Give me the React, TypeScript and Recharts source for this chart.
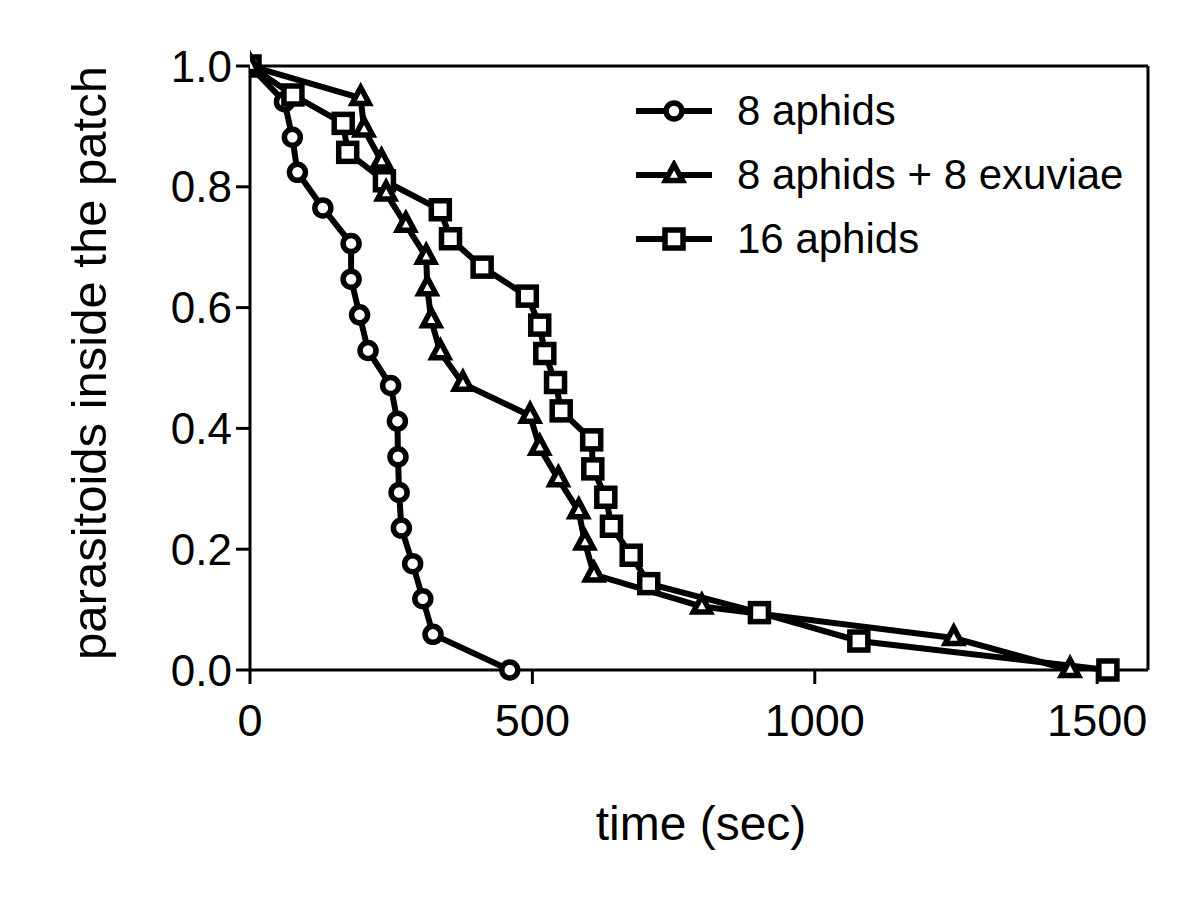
import React from 'react';
import { LineChart, Line, XAxis, YAxis, ReferenceLine, Legend } from 'recharts';

// 8 aphids (circles)
const aphids8Time = [0, 61, 75, 84, 129, 179, 179, 194, 209, 249, 261, 262, 264, 268, 288, 306, 324, 460];
const aphids8Prop = [1, 0.941, 0.882, 0.824, 0.765, 0.706, 0.647, 0.588, 0.529, 0.471, 0.412, 0.353, 0.294, 0.235, 0.176, 0.118, 0.059, 0];

// 8 aphids + 8 exuviae (triangles)
const exuviaeTime = [0, 196, 202, 233, 241, 276, 312, 314, 321, 337, 377, 496, 513, 546, 582, 593, 609, 800, 1246, 1452];
const exuviaeProp = [1, 0.947, 0.895, 0.842, 0.789, 0.737, 0.684, 0.632, 0.579, 0.526, 0.474, 0.421, 0.368, 0.316, 0.263, 0.211, 0.158, 0.105, 0.053, 0];

// 16 aphids (squares)
const aphids16Time = [0, 76, 165, 173, 238, 337, 355, 411, 491, 513, 522, 541, 551, 605, 607, 630, 640, 675, 706, 902, 1078, 1519];
const aphids16Prop = [1, 0.952, 0.905, 0.857, 0.81, 0.762, 0.714, 0.667, 0.619, 0.571, 0.524, 0.476, 0.429, 0.381, 0.333, 0.286, 0.238, 0.19, 0.143, 0.095, 0.048, 0];

const seriesNames = ['8 aphids', '8 aphids + 8 exuviae', '16 aphids'];
const xTicks = [0, 500, 1000, 1500];
const yTicks = [0, 0.2, 0.4, 0.6, 0.8, 1.0];

const FONT = '"Liberation Sans", Arial, sans-serif';

const zip = (ts: number[], ps: number[]) => ts.map((t, i) => ({ t, p: ps[i] }));

const circleData = zip(aphids8Time, aphids8Prop);
const triangleData = zip(exuviaeTime, exuviaeProp);
const squareData = zip(aphids16Time, aphids16Prop);

type Shape = 'circle' | 'triangle' | 'square';

const Marker = ({ shape, cx, cy }: { shape: Shape; cx: number; cy: number }) => {
  if (shape === 'circle') {
    return <circle cx={cx} cy={cy} r={8} fill="#fff" stroke="#000" strokeWidth={5.5} />;
  }
  if (shape === 'square') {
    return <rect x={cx - 9} y={cy - 9} width={18} height={18} fill="#fff" stroke="#000" strokeWidth={5.5} />;
  }
  return (
    <path
      d={`M${cx},${cy - 10.5} L${cx + 8.5},${cy + 5.5} L${cx - 8.5},${cy + 5.5} Z`}
      fill="#fff"
      stroke="#000"
      strokeWidth={5.5}
    />
  );
};

const makeDot = (shape: Shape) => (props: any) => (
  <Marker key={`${shape}-${props.index}`} shape={shape} cx={props.cx} cy={props.cy} />
);

const legendShapes: Shape[] = ['circle', 'triangle', 'square'];

const renderLegend = () => (
  <div style={{ fontFamily: FONT, fontSize: 42, color: '#000' }}>
    {seriesNames.map((name, i) => (
      <div key={name} style={{ display: 'flex', alignItems: 'center', height: 64, lineHeight: 1 }}>
        <svg width={90} height={30} style={{ display: 'block' }}>
          <line x1={6} y1={15} x2={82} y2={15} stroke="#000" strokeWidth={6} />
          <Marker shape={legendShapes[i]} cx={44} cy={15} />
        </svg>
        <span style={{ marginLeft: 17, whiteSpace: 'nowrap' }}>{name}</span>
      </div>
    ))}
  </div>
);

const YTitle = () => {
  const cy = 363;
  const cx = 89;
  return (
    <text
      x={cx}
      y={cy}
      transform={`rotate(-90, ${cx}, ${cy})`}
      textAnchor="middle"
      dy="0.355em"
      fontFamily={FONT}
      fontSize={49}
      fill="#000"
    >
      parasitoids inside the patch
    </text>
  );
};

const XTitle = (props: any) => {
  const vb = props.viewBox || {};
  const cx = (vb.x ?? 250) + (vb.width ?? 898) / 2 + 2;
  return (
    <text x={cx} y={840} textAnchor="middle" fontFamily={FONT} fontSize={48} fill="#000">
      time (sec)
    </text>
  );
};

export default function App() {
  return (
    <div style={{ position: 'absolute', left: 0, top: 0, width: 1192, height: 905, background: '#fff' }}>
      <LineChart width={1192} height={905} margin={{ top: 66, right: 44, left: 0, bottom: 175 }}>
        <XAxis
          type="number"
          dataKey="t"
          domain={[0, 1590]}
          ticks={xTicks}
          allowDataOverflow
          stroke="#000"
          strokeWidth={3}
          tickSize={14}
          tickMargin={20}
          height={60}
          tick={{ fill: '#000', fontSize: 45, fontFamily: FONT }}
          label={<XTitle />}
        />
        <YAxis
          type="number"
          dataKey="p"
          domain={[0, 1]}
          ticks={yTicks}
          tickFormatter={(v: number) => v.toFixed(1)}
          stroke="#000"
          strokeWidth={3}
          tickSize={14}
          tickMargin={4}
          width={250}
          tick={{ fill: '#000', fontSize: 44, fontFamily: FONT }}
          label={<YTitle />}
        />
        <ReferenceLine y={1} stroke="#000" strokeWidth={3} />
        <ReferenceLine x={1590} stroke="#000" strokeWidth={3} />
        <Legend
          layout="horizontal"
          verticalAlign="middle"
          align="center"
          content={renderLegend}
          wrapperStyle={{ position: 'absolute', left: 630, top: 79, width: 540, height: 192 }}
        />
        <Line
          data={circleData}
          dataKey="p"
          name={seriesNames[0]}
          type="linear"
          stroke="#000"
          strokeWidth={6}
          dot={makeDot('circle')}
          activeDot={false}
          isAnimationActive={false}
        />
        <Line
          data={squareData}
          dataKey="p"
          name={seriesNames[2]}
          type="linear"
          stroke="#000"
          strokeWidth={6}
          dot={makeDot('square')}
          activeDot={false}
          isAnimationActive={false}
        />
        <Line
          data={triangleData}
          dataKey="p"
          name={seriesNames[1]}
          type="linear"
          stroke="#000"
          strokeWidth={6}
          dot={makeDot('triangle')}
          activeDot={false}
          isAnimationActive={false}
        />
      </LineChart>
    </div>
  );
}
